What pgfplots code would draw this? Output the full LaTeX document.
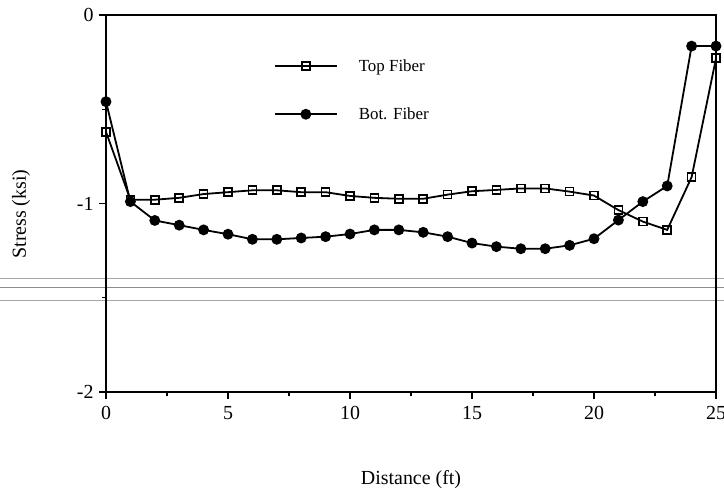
\documentclass[border=0pt]{standalone}
\usepackage{fontspec}
\setmainfont{Liberation Serif}
\usepackage{pgfplots}
\pgfplotsset{compat=1.18}
\begin{document}
\begin{tikzpicture}[x=1bp,y=1bp]
\useasboundingbox (0,0) rectangle (724,493);
% faint horizontal scan lines of the reference
\draw[black!35, line width=0.9bp] (0,215) -- (724,215);
\draw[black!45, line width=0.9bp] (0,206) -- (724,206);
\draw[black!35, line width=0.9bp] (0,193) -- (724,193);
\begin{axis}[
  at={(106bp,101bp)}, anchor=south west,
  scale only axis, width=610bp, height=377bp,
  xmin=0, xmax=25, ymin=-2, ymax=0,
  xtick={0,5,10,15,20,25}, ytick={-2,-1,0},
  minor xtick={2.5,7.5,12.5,17.5,22.5},
  minor ytick={-1.5,-0.5},
  xtick pos=bottom, ytick pos=left,
  tick align=outside,
  major tick length=7bp, minor tick length=4bp,
  every tick/.style={black, line width=1.4bp},
  axis line style={line width=2bp},
  /pgf/number format/assume math mode=true,
  ticklabel style={font=\fontsize{20}{24}\selectfont},
  xticklabel style={yshift=-4bp},
  yticklabel style={xshift=-2bp},
  xlabel={Distance (ft)}, ylabel={Stress (ksi)},
  label style={font=\fontsize{20}{24}\selectfont},
  xlabel style={at={(axis description cs:0.5,-0.233)}, anchor=center},
  ylabel style={at={(axis description cs:-0.139,0.472)}, anchor=center},
  legend cell align=left,
  legend style={draw=none, fill=none, font=\fontsize{17}{20}\selectfont,
    at={(axis description cs:0.275,0.888)}, anchor=north west,
    inner sep=0pt, row sep=31bp,
    nodes={inner xsep=21bp}},
  legend image code/.code={\draw[mark repeat=2, mark phase=2, #1] plot coordinates {(0bp,0bp) (31bp,0bp) (62bp,0bp)};},
]
\addplot[black, line width=1.8bp, mark=square, mark size=4bp,
  mark options={fill=white, line width=1.7bp, solid}] coordinates {
(0,-0.62) (1,-0.98) (2,-0.98) (3,-0.97) (4,-0.95) (5,-0.94) (6,-0.93) (7,-0.93)
(8,-0.94) (9,-0.94) (10,-0.96) (11,-0.97) (12,-0.975) (13,-0.975) (14,-0.953)
(15,-0.935) (16,-0.928) (17,-0.92) (18,-0.92) (19,-0.937) (20,-0.958)
(21,-1.035) (22,-1.096) (23,-1.14) (24,-0.86) (25,-0.23)};
\addlegendentry{Top Fiber}
\addplot[black, line width=1.8bp, mark=*, mark size=4.5bp,
  mark options={fill=black, solid}] coordinates {
(0,-0.46) (1,-0.99) (2,-1.09) (3,-1.115) (4,-1.14) (5,-1.163) (6,-1.19) (7,-1.19)
(8,-1.183) (9,-1.176) (10,-1.162) (11,-1.14) (12,-1.14) (13,-1.153) (14,-1.176)
(15,-1.21) (16,-1.229) (17,-1.24) (18,-1.24) (19,-1.222) (20,-1.187)
(21,-1.088) (22,-0.99) (23,-0.907) (24,-0.165) (25,-0.165)};
\addlegendentry{Bot. Fiber}
\end{axis}
\end{tikzpicture}
\end{document}
